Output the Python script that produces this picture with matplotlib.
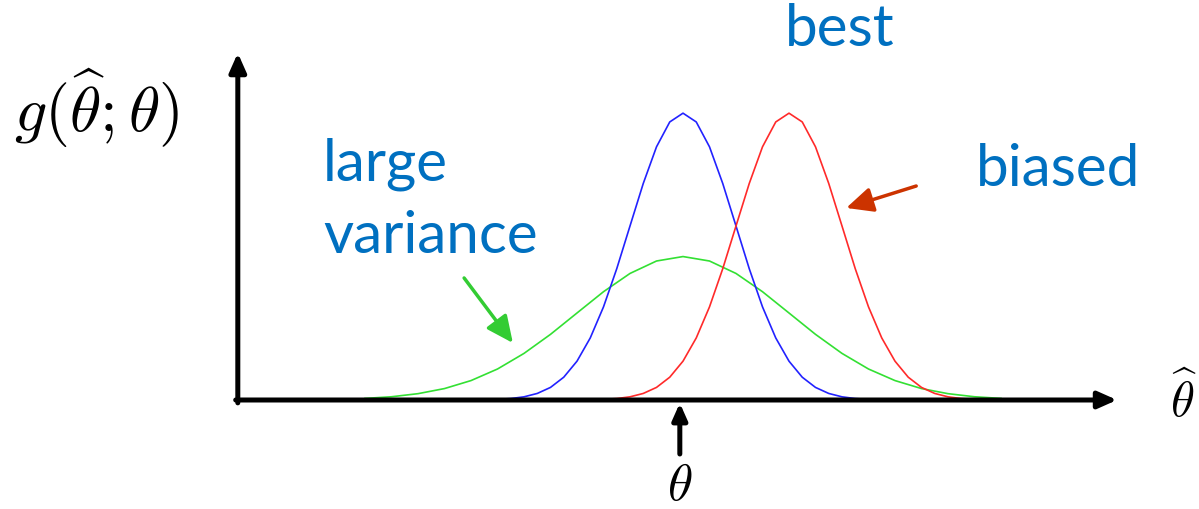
import matplotlib
matplotlib.use("Agg")
import matplotlib.pyplot as plt

plt.rcParams['mathtext.fontset'] = 'cm'

# Estimator sampling densities (x in units of the best estimator's sd, theta = 0)
blue_x = [-3.5, -3.25, -3.0, -2.75, -2.5, -2.25, -2.0, -1.75, -1.5, -1.25, -1.0, -0.75, -0.5, -0.25,
          0.0, 0.25, 0.5, 0.75, 1.0, 1.25, 1.5, 1.75, 2.0, 2.25, 2.5, 2.75, 3.0, 3.25, 3.5]
blue_y = [0.0009, 0.0020, 0.0044, 0.0091, 0.0175, 0.0317, 0.0540, 0.0863, 0.1295, 0.1826, 0.2420, 0.3011, 0.3521, 0.3867,
          0.3989, 0.3867, 0.3521, 0.3011, 0.2420, 0.1826, 0.1295, 0.0863, 0.0540, 0.0317, 0.0175, 0.0091, 0.0044, 0.0020, 0.0009]

red_x = [-1.5, -1.25, -1.0, -0.75, -0.5, -0.25, 0.0, 0.25, 0.5, 0.75, 1.0, 1.25, 1.5, 1.75,
         2.0, 2.25, 2.5, 2.75, 3.0, 3.25, 3.5, 3.75, 4.0, 4.25, 4.5, 4.75, 5.0, 5.25, 5.5]
red_y = [0.0009, 0.0020, 0.0044, 0.0091, 0.0175, 0.0317, 0.0540, 0.0863, 0.1295, 0.1826, 0.2420, 0.3011, 0.3521, 0.3867,
         0.3989, 0.3867, 0.3521, 0.3011, 0.2420, 0.1826, 0.1295, 0.0863, 0.0540, 0.0317, 0.0175, 0.0091, 0.0044, 0.0020, 0.0009]

green_x = [-6.0, -5.5, -5.0, -4.5, -4.0, -3.5, -3.0, -2.5, -2.0, -1.5, -1.0, -0.5, 0.0,
           0.5, 1.0, 1.5, 2.0, 2.5, 3.0, 3.5, 4.0, 4.5, 5.0, 5.5, 6.0]
green_y = [0.0022, 0.0045, 0.0088, 0.0159, 0.0270, 0.0431, 0.0648, 0.0913, 0.1210, 0.1506, 0.1760, 0.1933, 0.1995,
           0.1933, 0.1760, 0.1506, 0.1210, 0.0913, 0.0648, 0.0431, 0.0270, 0.0159, 0.0088, 0.0045, 0.0022]

label_color = '#0070C0'

fig = plt.figure(figsize=(11.99, 5.09), dpi=100)
ax = fig.add_axes([0, 0, 1, 1])
ax.set_xlim(-12.887, 9.736)
ax.set_ylim(-0.1516, 0.5563)
ax.axis('off')

ax.plot(green_x, green_y, color='#33E033', lw=1.2)
ax.plot(blue_x, blue_y, color='#2222FF', lw=1.2)
ax.plot(red_x, red_y, color='#FF2A2A', lw=1.2)

# axes arrows
ax.annotate('', xy=(8.19, 0.0), xytext=(-8.44, 0.0),
            arrowprops=dict(arrowstyle='-|>,head_length=0.45,head_width=0.2', lw=3.6,
                            color='black', shrinkA=0, shrinkB=0, mutation_scale=25))
ax.annotate('', xy=(-8.4, 0.4826), xytext=(-8.4, -0.004),
            arrowprops=dict(arrowstyle='-|>,head_length=0.45,head_width=0.2', lw=3.6,
                            color='black', shrinkA=0, shrinkB=0, mutation_scale=25))
# theta marker arrow
ax.annotate('', xy=(-0.06, -0.0042), xytext=(-0.06, -0.0751),
            arrowprops=dict(arrowstyle='-|>,head_length=0.45,head_width=0.2', lw=3.6,
                            color='black', shrinkA=0, shrinkB=0, mutation_scale=22))

# pointer arrows
ax.annotate('', xy=(3.08, 0.2671), xytext=(4.40, 0.2976),
            arrowprops=dict(arrowstyle='-|>,head_length=0.6,head_width=0.28', lw=2.5,
                            color='#CC3300', shrinkA=0, shrinkB=0, mutation_scale=27))
ax.annotate('', xy=(-3.21, 0.0793), xytext=(-4.13, 0.1697),
            arrowprops=dict(arrowstyle='-|>,head_length=0.6,head_width=0.28', lw=2.5,
                            color='#33CC33', shrinkA=0, shrinkB=0, mutation_scale=27))

# labels
font = dict(family='Lato', color=label_color, fontsize=42)
ax.text(2.96, 0.5146, 'best', ha='center', va='center', **font)
ax.text(7.08, 0.3199, 'biased', ha='center', va='center', **font)
ax.text(-6.79, 0.3055, 'large', ha='left', va='baseline', **font)
ax.text(-6.79, 0.2045, 'variance', ha='left', va='baseline', **font)

ax.text(-12.62, 0.405, r'$g(\widehat{\theta};\theta)$', ha='left', va='center', fontsize=46)
ax.text(9.45, 0.0, r'$\widehat{\theta}$', ha='center', va='center', fontsize=35)
ax.text(-0.06, -0.120, r'$\theta$', ha='center', va='center', fontsize=37)

fig.savefig('out.png', dpi=100)
